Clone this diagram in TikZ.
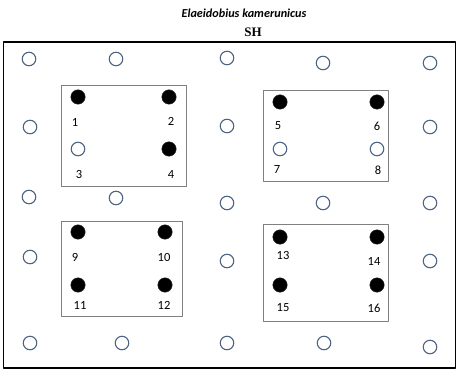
\documentclass[tikz,border=0pt]{standalone}
\usepackage{fontspec}
\setmainfont{Carlito}
\newfontfamily\headserif{Liberation Serif}
\usetikzlibrary{positioning}
\definecolor{palmblue}{HTML}{4F6482}
\definecolor{blockgray}{HTML}{808080}

\begin{document}
\begin{tikzpicture}[x=1pt, y=-1pt, line join=round,
  font=\fontsize{12.5}{14}\selectfont, every node/.style={inner sep=0pt},
  palm/.style={circle, draw=palmblue, line width=1.1pt, minimum size=13.5pt},
  visited/.style={circle, fill=black, draw=black!80, minimum size=14.5pt},
  blockbox/.style={draw=blockgray, line width=0.8pt}]
  \path[use as bounding box] (0,0) rectangle (462,371);
  \node[font=\bfseries\itshape\fontsize{12.2}{14}\selectfont] (species)
    at (244,13) {Elaeidobius kamerunicus};
  \node[font=\headserif\bfseries\fontsize{13}{14}\selectfont] (site)
    at (253,32) {SH};
  % field border; x and y in pixels, y pointing down
  \draw[line width=1.4pt] (3.5,42) rectangle (455.5,368);
  \foreach \x/\y [count=\i] in {29/59,116/59,227/58,323/63,430/63,
      30/127,227/126,430/127,
      29/197,116/198,227/203,323/203,430/203,
      30/257,227/261,430/261,
      30/343,122/343,227/343,324/343,430/347}
    \node[palm] (p\i) at (\x,\y) {};
  % the four sampled blocks
  \draw[blockbox] (61,85) rectangle (186,186);
  \draw[blockbox] (263,90) rectangle (388,181);
  \draw[blockbox] (61,221) rectangle (182,316);
  \draw[blockbox] (263,224) rectangle (388,321);
  \foreach \x/\y/\st/\n/\lx/\ly in {
      78/97/visited/1/75/122, 169/97/visited/2/171/121,
      78/149/palm/3/79/174, 169/149/visited/4/171/174,
      280/102/visited/5/278/126, 377/102/visited/6/377/126,
      280/149/palm/7/277/169, 377/149/palm/8/378/170,
      78/232/visited/9/75/257, 165/232/visited/10/164/257,
      78/285/visited/11/80/305, 165/285/visited/12/164/305,
      280/237/visited/13/283/255, 377/237/visited/14/374/261,
      280/285/visited/15/283/308, 377/285/visited/16/374/308} {
    \node[\st] (t\n) at (\x,\y) {};
    \node (n\n) at (\lx,\ly) {\n};
  }
\end{tikzpicture}
\end{document}
